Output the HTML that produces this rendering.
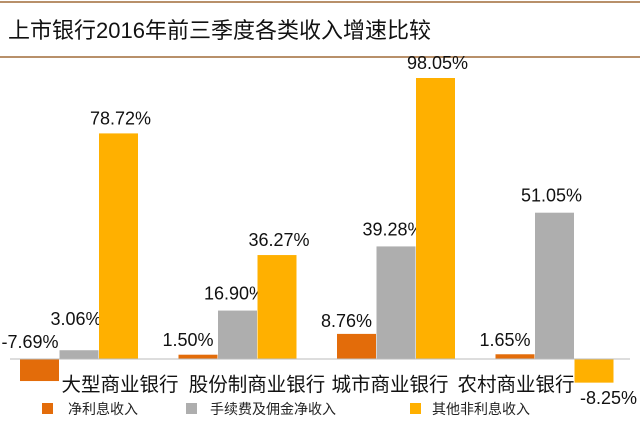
<!DOCTYPE html>
<html><head><meta charset="utf-8"><style>
body{margin:0;background:#fff;font-family:"Liberation Sans","Noto Sans CJK SC",sans-serif}
</style></head><body>
<svg width="640" height="426" xmlns="http://www.w3.org/2000/svg" font-family="Liberation Sans, Noto Sans CJK SC, sans-serif">
<line x1="0" y1="2" x2="640" y2="2" stroke="#b8906a" stroke-width="2"/>
<text x="8" y="38" font-size="22" fill="#111">上市银行2016年前三季度各类收入增速比较</text>
<line x1="0" y1="57" x2="640" y2="57" stroke="#b8906a" stroke-width="2"/>
<g id="plot"></g>
<g>
<rect x="42" y="403" width="11" height="11" fill="#e36c0a"/>
<text x="68" y="414" font-size="14" fill="#222">净利息收入</text>
<rect x="186" y="403" width="11" height="11" fill="#aeaeae"/>
<text x="210" y="414" font-size="14" fill="#222">手续费及佣金净收入</text>
<rect x="410" y="403" width="11" height="11" fill="#ffb000"/>
<text x="432" y="414" font-size="14" fill="#222">其他非利息收入</text>
</g>
</svg>
<script>
const categories=["大型商业银行","股份制商业银行","城市商业银行","农村商业银行"];
const netInterest=[-7.69,1.50,8.76,1.65];
const feeIncome=[3.06,16.90,39.28,51.05];
const otherIncome=[78.72,36.27,98.05,-8.25];
const series=[netInterest,feeIncome,otherIncome];
const colors=["#e36c0a","#aeaeae","#ffb000"];
const names=["net-interest","fee","other"];
const base=359,scale=(359-78)/98.05;
const y=v=>base-v*scale;
const x=(g,s)=>20+g*158.5+s*39.5;
const ns="http://www.w3.org/2000/svg";
const plot=document.getElementById('plot');
function mk(t,a){const e=document.createElementNS(ns,t);for(const k in a)e.setAttribute(k,a[k]);plot.appendChild(e);return e;}
const catCenters=[120,257,390,516];
series.forEach((arr,s)=>arr.forEach((v,g)=>{
 const r=mk('rect',{x:x(g,s),y:Math.min(y(v),base),width:39,height:Math.abs(v)*scale,fill:colors[s]});
 
 
 let cx=x(g,s)+19.5, ty=v>=0?y(v)-7:y(v)+22;
 if(s===0){cx-=10;ty=Math.min(ty,base-13);}
 if(s===1){cx-=3;if(g===0)ty=base-34;else ty-=4;}
 if(s===2&&v>=0){cx+=2;ty-=2;}
 if(v<0&&s===0){cx=x(g,s)+10;ty=base-11;}
 if(v<0&&s===2){cx=x(g,s)+34;ty=base+45;}
 const t=mk('text',{x:cx,y:ty,'font-size':18,fill:'#111','text-anchor':'middle'});
 t.textContent=v.toFixed(2)+'%';
 
 
}));
const ax=mk('line',{x1:10,x2:630,y1:base,y2:base,stroke:'#bbb','stroke-width':1});


categories.forEach((c,g)=>{
 const t=mk('text',{x:catCenters[g],y:391,'font-size':19.5,fill:'#111','text-anchor':'middle'});
 t.textContent=c;
 
 
});
</script>
</body></html>
